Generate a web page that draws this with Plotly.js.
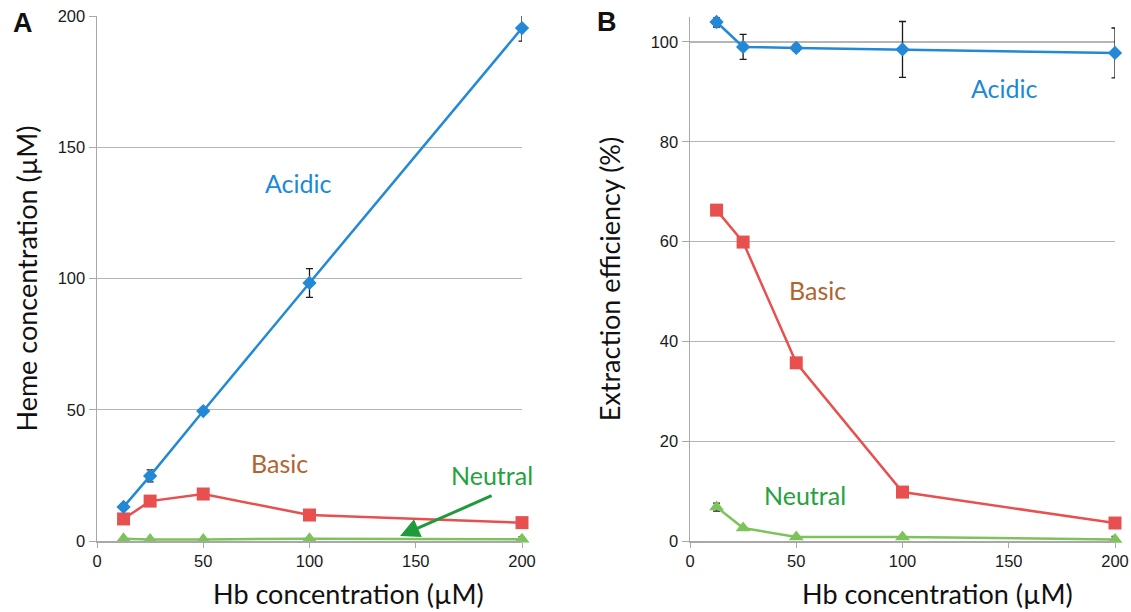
<!DOCTYPE html>
<html>
<head>
<meta charset="utf-8">
<script src="https://cdn.plot.ly/plotly-3.0.1.min.js"></script>
<style>html,body{margin:0;padding:0;background:#fff;}#chart{width:1131px;height:612px;}</style>
</head>
<body>
<div id="chart"></div>
<script>
// Hb concentration (µM)
const hb = [12.5, 25, 50, 100, 200];

// Panel A: Heme concentration (µM)
const hemeAcidic = [13.0, 24.8, 49.5, 98.3, 195.4];
const hemeAcidicErr = [1.0, 2.3, 1.0, 5.5, 5.0];
const hemeBasic = [8.4, 15.2, 17.9, 9.9, 7.0];
const hemeNeutral = [0.9, 0.6, 0.6, 0.9, 0.7];
const hemeNeutralErr = [0.3, 0.2, 0.2, 0.3, 1.0];

// Panel B: Extraction efficiency (%)
const effAcidic = [104.0, 99.0, 98.8, 98.5, 97.8];
const effAcidicErr = [1.0, 2.5, 0.7, 5.6, 5.0];
const effBasic = [66.3, 59.9, 35.7, 9.8, 3.6];
const effNeutral = [6.8, 2.6, 0.8, 0.8, 0.3];
const effNeutralErr = [0.8, 0.3, 0.2, 0.2, 0.6];

const xTicks = [0, 50, 100, 150, 200];
const yTicksA = [0, 50, 100, 150, 200];
const yTicksB = [0, 20, 40, 60, 80, 100];

const blue = '#2389d6', red = '#e8504f', green = '#7cc35a';
const err = (arr) => ({type: 'data', array: arr, visible: true, color: '#1a1a1a', thickness: 1.3, width: 3.5});

function series(x, y, xa, ya, color, sym, size, e) {
  const t = {x: x, y: y, xaxis: xa, yaxis: ya, mode: 'lines+markers', type: 'scatter', cliponaxis: false,
    line: {color: color, width: 2.5}, marker: {color: color, symbol: sym, size: size}, showlegend: false};
  if (e) t.error_y = err(e);
  return t;
}

const traces = [
  series(hb, hemeNeutral, 'x', 'y', green, 'triangle-up', 13, hemeNeutralErr),
  series(hb, hemeBasic, 'x', 'y', red, 'square', 13, null),
  series(hb, hemeAcidic, 'x', 'y', blue, 'diamond', 11, hemeAcidicErr),
  series(hb, effNeutral, 'x2', 'y2', green, 'triangle-up', 13, effNeutralErr),
  series(hb, effBasic, 'x2', 'y2', red, 'square', 13, null),
  series(hb, effAcidic, 'x2', 'y2', blue, 'diamond', 11, effAcidicErr)
];

const tickFont = {family: 'Liberation Sans, Arial, sans-serif', size: 16.5, color: '#1a1a1a'};
const titleFont = {family: 'Lato, Open Sans, sans-serif', size: 27, color: '#111'};
const annFont = (c) => ({family: 'Lato, Open Sans, sans-serif', size: 25, color: c});

const xaxisBase = {range: [0, 200], tickvals: xTicks, ticktext: xTicks.map(String), showgrid: false, zeroline: false,
  showline: true, linecolor: '#a8a8a8', linewidth: 1.5, ticks: 'outside', ticklen: 5, tickcolor: '#a8a8a8',
  tickfont: tickFont, fixedrange: true};
const yaxisBase = {showgrid: true, gridcolor: '#b5b5b5', gridwidth: 1.3, zeroline: false, showline: true,
  linecolor: '#a8a8a8', linewidth: 1.5, ticks: 'outside', ticklen: 7, tickcolor: '#a8a8a8', tickfont: tickFont,
  fixedrange: true};

const layout = {
  width: 1131, height: 612, margin: {l: 0, r: 0, t: 0, b: 0},
  paper_bgcolor: '#fff', plot_bgcolor: '#fff',
  xaxis: Object.assign({}, xaxisBase, {domain: [97/1131, 522/1131], anchor: 'y'}),
  yaxis: Object.assign({}, yaxisBase, {domain: [1 - 541/612, 1 - 16/612], range: [0, 200], tickvals: yTicksA,
    anchor: 'x', title: {text: 'Heme concentration (µM)', font: titleFont, standoff: 12}}),
  xaxis2: Object.assign({}, xaxisBase, {domain: [690/1131, 1115/1131], anchor: 'y2'}),
  yaxis2: Object.assign({}, yaxisBase, {domain: [1 - 541/612, 1 - 17/612], range: [0, 105], tickvals: yTicksB,
    anchor: 'x2', title: {text: 'Extraction efficiency (%)', font: titleFont, standoff: 22}}),
  annotations: [
    {text: 'Hb concentration (µM)', xref: 'paper', yref: 'paper', x: 348/1131, y: 1 - 593/612, showarrow: false, font: titleFont, xanchor: 'center', yanchor: 'middle'},
    {text: 'Hb concentration (µM)', xref: 'paper', yref: 'paper', x: 937/1131, y: 1 - 593/612, showarrow: false, font: titleFont, xanchor: 'center', yanchor: 'middle'},
    {text: '<b>A</b>', xref: 'paper', yref: 'paper', x: 23/1131, y: 1 - 23/612, xanchor: 'center', yanchor: 'middle', showarrow: false, font: {family: 'Liberation Sans, Arial', size: 27, color: '#111'}},
    {text: '<b>B</b>', xref: 'paper', yref: 'paper', x: 607/1131, y: 1 - 22/612, xanchor: 'center', yanchor: 'middle', showarrow: false, font: {family: 'Liberation Sans, Arial', size: 27, color: '#111'}},
    {text: 'Acidic', xref: 'x', yref: 'y', x: 94.6, y: 136.4, showarrow: false, font: annFont('#1a8ad6')},
    {text: 'Basic', xref: 'x', yref: 'y', x: 86.1, y: 29.7, showarrow: false, font: annFont('#b2632e')},
    {text: 'Neutral', xref: 'x', yref: 'y', x: 185.9, y: 25.1, showarrow: false, font: annFont('#25a23e')},
    {text: '', xref: 'x', yref: 'y', x: 142.6, y: 1.9, axref: 'x', ayref: 'y', ax: 186.4, ay: 17.5, showarrow: true,
      arrowhead: 2, arrowsize: 1.3, arrowwidth: 3, arrowcolor: '#1f9a3c'},
    {text: 'Acidic', xref: 'x2', yref: 'y2', x: 148.2, y: 90.8, showarrow: false, font: annFont('#1a8ad6')},
    {text: 'Basic', xref: 'x2', yref: 'y2', x: 60.2, y: 50.3, showarrow: false, font: annFont('#b2632e')},
    {text: 'Neutral', xref: 'x2', yref: 'y2', x: 54.1, y: 9.2, showarrow: false, font: annFont('#25a23e')}
  ]
};

Plotly.newPlot('chart', traces, layout, {displayModeBar: false, staticPlot: true});
</script>
</body>
</html>
